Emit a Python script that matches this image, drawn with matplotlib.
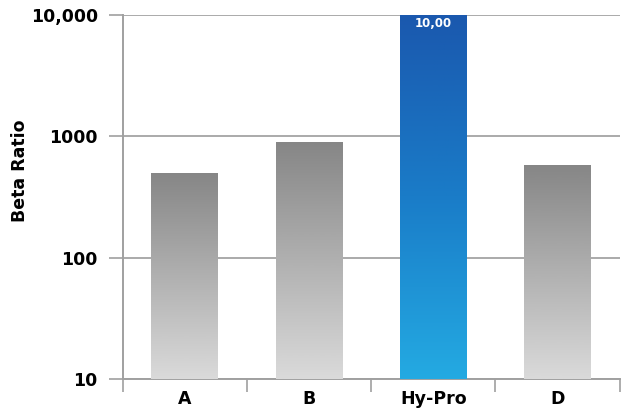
import matplotlib
matplotlib.use("Agg")
import matplotlib.pyplot as plt
import matplotlib.transforms as mtransforms
import numpy as np
from matplotlib.colors import LinearSegmentedColormap

categories = ["A", "B", "Hy-Pro", "D"]
values = [500, 900, 10000, 580]
yticks = [10, 100, 1000, 10000]
ytick_labels = ["10", "100", "1000", "10,000"]
bar_label = "10,00"

plt.rcParams['font.family'] = ['DejaVu Sans']

fig = plt.figure(figsize=(6.26, 4.12), dpi=100)
ax = fig.add_axes([0.196, 0.08, 0.794, 0.884])
ax.set_yscale('log')
ax.set_ylim(10, 10000)
ax.set_xlim(-0.5, 3.5)

gray_cmap = LinearSegmentedColormap.from_list('g', ['#dadada', '#b0b0b0', '#868686'])
blue_cmap = LinearSegmentedColormap.from_list('b', ['#24aae2', '#1a7cc8', '#1a58ae'])

x = np.arange(len(categories))
bars = ax.bar(x, values, width=0.54, bottom=10, color='none', edgecolor='none', zorder=3)
grad = np.linspace(0, 1, 256).reshape(-1, 1)
blend = mtransforms.blended_transform_factory(ax.transData, ax.transAxes)
ymin, ymax = ax.get_ylim()
for i, b in enumerate(bars):
    cmap = blue_cmap if categories[i] == "Hy-Pro" else gray_cmap
    x0 = b.get_x()
    x1 = x0 + b.get_width()
    top = (np.log10(values[i]) - np.log10(ymin)) / (np.log10(ymax) - np.log10(ymin))
    im = ax.imshow(grad, cmap=cmap, origin='lower', aspect='auto',
                   extent=(x0, x1, 0, top), zorder=3, interpolation='bilinear',
                   transform=blend)
    im.set_clip_path(b)

ax.set_xlim(-0.5, 3.5)
ax.set_ylim(10, 10000)

ax.text(2, 0.975, bar_label, color='white', fontsize=8.5, fontweight='bold',
        ha='center', va='center', zorder=5, transform=blend)

ax.set_yticks(yticks)
ax.set_yticklabels(ytick_labels)
ax.yaxis.set_minor_locator(matplotlib.ticker.NullLocator())
ax.tick_params(axis='y', which='major', length=10, width=1.2, color='#a0a0a0',
               labelsize=12.5, pad=8)
for lab in ax.get_yticklabels():
    lab.set_fontweight('bold')

ax.set_xticks(x)
ax.set_xticklabels(categories, fontsize=12.5, fontweight='bold')
ax.set_xticks(np.arange(-0.5, 4.0, 1.0), minor=True)
ax.tick_params(axis='x', which='major', length=0, pad=8)
ax.tick_params(axis='x', which='minor', length=9, width=1.2, color='#a0a0a0')

ax.yaxis.grid(True, color='#aaaaaa', linewidth=1.4, zorder=1)
ax.set_axisbelow(True)
for s in ['top', 'right']:
    ax.spines[s].set_visible(False)
for s in ['left', 'bottom']:
    ax.spines[s].set_color('#a0a0a0')
    ax.spines[s].set_linewidth(1.4)

fig.text(20 / 626, 1 - 171 / 412, "Beta Ratio", fontsize=12.5, fontweight='bold',
         rotation=90, ha='center', va='center')

fig.savefig("out.png", dpi=100)
